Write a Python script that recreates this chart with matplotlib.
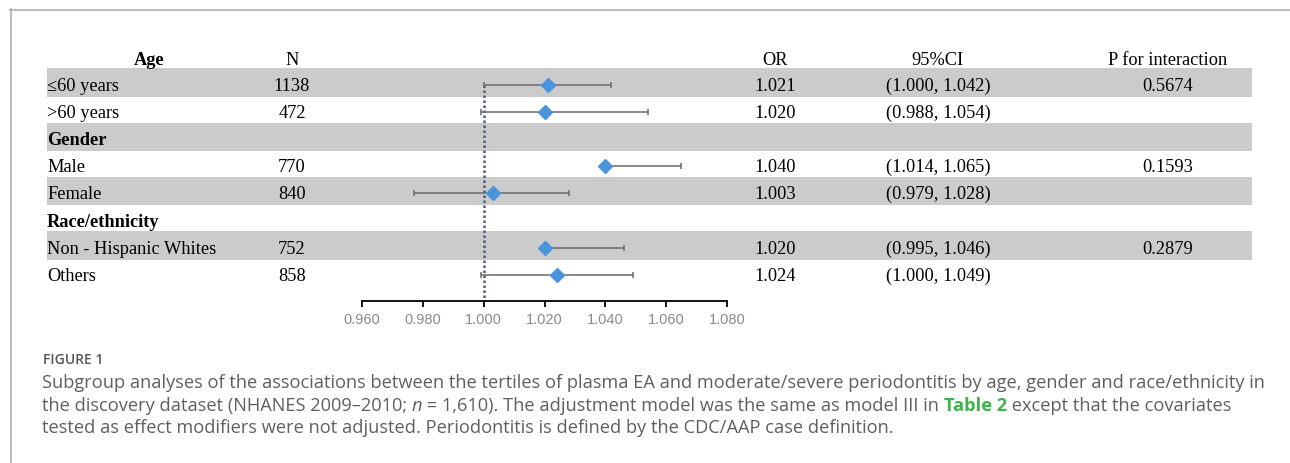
import matplotlib
matplotlib.use("Agg")
import matplotlib.pyplot as plt

# table content
labels = ["\u226460 years", ">60 years", "Gender", "Male", "Female", "Race/ethnicity",
          "Non - Hispanic Whites", "Others"]
is_group = [False, False, True, False, False, True, False, False]
n_text = ["1138", "472", "", "770", "840", "", "752", "858"]
or_text = ["1.021", "1.020", "", "1.040", "1.003", "", "1.020", "1.024"]
ci_text = ["(1.000, 1.042)", "(0.988, 1.054)", "", "(1.014, 1.065)", "(0.979, 1.028)", "",
           "(0.995, 1.046)", "(1.000, 1.049)"]
p_text = ["0.5674", "", "", "0.1593", "", "", "0.2879", ""]
shaded_rows = [0, 2, 4, 6]

# forest plot (whisker ends as drawn in the figure)
plot_rows = [0, 1, 3, 4, 6, 7]
or_vals = [1.021, 1.020, 1.040, 1.003, 1.020, 1.024]
lo_vals = [1.000, 0.999, 1.040, 0.977, 1.020, 0.999]
hi_vals = [1.042, 1.054, 1.065, 1.028, 1.046, 1.049]
xticks = [0.960, 0.980, 1.000, 1.020, 1.040, 1.060, 1.080]

caption1 = ("Subgroup analyses of the associations between the tertiles of plasma EA and "
            "moderate/severe periodontitis by age, gender and race/ethnicity in")
caption3 = ("tested as effect modifiers were not adjusted. Periodontitis is defined by the "
            "CDC/AAP case definition.")

W, H = 1290, 464
fig = plt.figure(figsize=(W / 100, H / 100), dpi=100)
ax = fig.add_axes([0, 0, 1, 1])
ax.set_xlim(0, W)
ax.set_ylim(H, 0)
ax.axis("off")

y0, pitch = 84.5, 27.15
def row_y(i):
    return y0 + pitch * i

# page frame
ax.plot([10, W], [10.5, 10.5], color="#b0b0b0", lw=1.2)
ax.plot([10.5, 10.5], [10, H], color="#b0b0b0", lw=1.2)

# grey bands
ax.barh([row_y(i) - 1 for i in shaded_rows], width=1252 - 46.5, left=46.5, height=28.5,
        color="#cbcbcb", zorder=1)

serif = "Liberation Serif"
fs = 13.2
base = 6.3  # baseline offset below row centre (px)
hy = row_y(-1) + 1 + base
ax.text(149, hy, "Age", ha="center", va="baseline", family=serif, fontsize=fs, fontweight="bold")
ax.text(292, hy, "N", ha="center", va="baseline", family=serif, fontsize=fs)
ax.text(775, hy, "OR", ha="center", va="baseline", family=serif, fontsize=fs)
ax.text(938, hy, "95%CI", ha="center", va="baseline", family=serif, fontsize=fs)
ax.text(1168, hy, "P for interaction", ha="center", va="baseline", family=serif, fontsize=fs)

for i, lab in enumerate(labels):
    y = row_y(i) + base
    ax.text(47, y, lab, ha="left", va="baseline", family=serif, fontsize=fs,
            fontweight="bold" if is_group[i] else "normal", zorder=3)
    ax.text(292, y, n_text[i], ha="center", va="baseline", family=serif, fontsize=fs, zorder=3)
    ax.text(775, y, or_text[i], ha="center", va="baseline", family=serif, fontsize=fs, zorder=3)
    ax.text(938, y, ci_text[i], ha="center", va="baseline", family=serif, fontsize=fs, zorder=3)
    ax.text(1168, y, p_text[i], ha="center", va="baseline", family=serif, fontsize=fs, zorder=3)

# forest axes
top_px, bot_px, left_px, right_px = 70, 302, 362, 727
fax = fig.add_axes([left_px / W, (H - bot_px) / H, (right_px - left_px) / W, (bot_px - top_px) / H])
fax.patch.set_alpha(0)
fax.set_xlim(0.96, 1.08)
fax.set_ylim((bot_px - y0) / pitch, (top_px - y0) / pitch)
for s in ["top", "left", "right"]:
    fax.spines[s].set_visible(False)
fax.spines["bottom"].set_linewidth(1.3)
fax.set_yticks([])
fax.set_xticks(xticks)
fax.set_xticklabels(["%.3f" % t for t in xticks])
fax.tick_params(axis="x", length=4, width=1.3, pad=4, labelsize=10.5, labelcolor="#8a8a8a")
for t in fax.get_xticklabels():
    t.set_family("Liberation Sans")

fax.vlines(1.0, 0.05, (bot_px - y0) / pitch, colors="#4d5d7a", linestyles=(0, (1, 1)), lw=1.8, zorder=2)
for r, o, lo, hi in zip(plot_rows, or_vals, lo_vals, hi_vals):
    fax.errorbar(o, r + 0.05, xerr=[[o - lo], [hi - o]], fmt="D", color="#4a94dc", ms=7.5,
                 ecolor="#6a6a6a", elinewidth=1.1, capsize=2.5, capthick=1.1, zorder=3)

# caption
cap_color = "#5f5f5f"
sans = "Open Sans"
ax.text(43, 364, "FIGURE 1", ha="left", va="baseline", family=sans, fontsize=10,
        fontweight="semibold", color="#555555")

cap_texts = []
def rich_line(x, y, parts, size):
    prev = None
    for s, kw in parts:
        style = dict(family=sans, fontsize=size, color=cap_color)
        style.update(kw)
        if prev is None:
            prev = ax.text(x, y, s, ha="left", va="baseline", **style)
        else:
            prev = ax.annotate(s, xy=(1, 0), xycoords=prev, ha="left", va="bottom", **style)
        cap_texts.append(prev)

cs = 12
rich_line(42, 388, [(caption1, {})], cs)
rich_line(42, 411, [("the discovery dataset (NHANES 2009\u20132010; ", {}), ("n", {"style": "italic"}),
                    (" = 1,610). The adjustment model was the same as model III in ", {}),
                    ("Table 2", {"color": "#3cb44b", "fontweight": "bold"}),
                    (" except that the covariates", {})], cs)
rich_line(42, 433, [(caption3, {})], cs)

# fit caption width to the frame
fig.canvas.draw()
bb = cap_texts[0].get_window_extent()
scale = (1262 - 42) / bb.width
for t in cap_texts:
    t.set_fontsize(cs * scale)

fig.savefig("out.png", dpi=100)
